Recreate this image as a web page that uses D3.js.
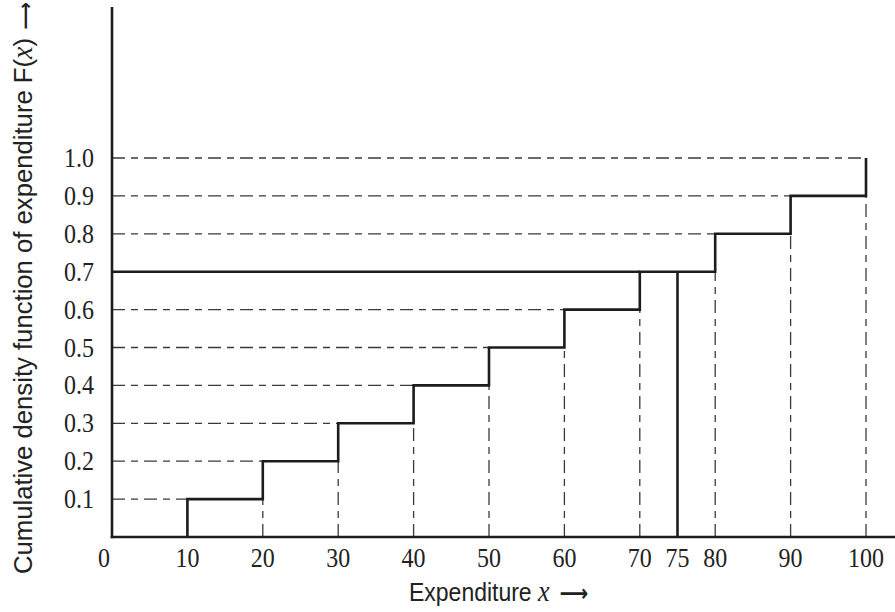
<!DOCTYPE html>
<html>
<head>
<meta charset="utf-8">
<script src="https://cdn.jsdelivr.net/npm/d3@7"></script>
<style>
  body { margin: 0; background: #fff; }
  .tick-label { font-family: "Liberation Serif", "Times New Roman", serif; fill: #222; }
  .title { font-family: "Liberation Sans", Arial, sans-serif; fill: #222; }
  .arrow { font-family: "DejaVu Sans", sans-serif; font-weight: bold; }
</style>
</head>
<body>
<svg id="chart" width="895" height="612"></svg>
<script>
// jump points of the step cdf and the level reached at each one
var jumpX = [10, 20, 30, 40, 50, 60, 70, 80, 90, 100];
var cdfLevel = [0.1, 0.2, 0.3, 0.4, 0.5, 0.6, 0.7, 0.8, 0.9, 1.0];
var markX = 75;
var markLevel = 0.7;
var xTickValues = [0, 10, 20, 30, 40, 50, 60, 70, 75, 80, 90, 100];
var yTickValues = [0.1, 0.2, 0.3, 0.4, 0.5, 0.6, 0.7, 0.8, 0.9, 1.0];

var svg = d3.select("#chart");
var x = d3.scaleLinear().domain([0, 100]).range([112, 866]);
var y = d3.scaleLinear().domain([0, 1]).range([537, 158]);
var dash = "13,6,7,6";
var ink = "#1c1c1c";

// dashed guides: horizontal from axis to each step, vertical from axis up to each step
var guides = svg.append("g")
    .attr("stroke", "#3a3a3a")
    .attr("stroke-width", 1.3)
    .attr("stroke-dasharray", dash)
    .attr("fill", "none");

guides.selectAll("line.h")
    .data(cdfLevel.map(function(d, i) { return { x: jumpX[i], f: d }; })
      .filter(function(d) { return d.f !== markLevel; }))
  .enter().append("line")
    .attr("class", "h")
    .attr("x1", x(0))
    .attr("y1", function(d) { return y(d.f); })
    .attr("x2", function(d) { return x(d.x); })
    .attr("y2", function(d) { return y(d.f); });

guides.selectAll("line.v")
    .data(jumpX.slice(1).map(function(d, i) { return { x: d, f: cdfLevel[i] }; }))
  .enter().append("line")
    .attr("class", "v")
    .attr("x1", function(d) { return x(d.x); })
    .attr("y1", y(0))
    .attr("x2", function(d) { return x(d.x); })
    .attr("y2", function(d) { return y(d.f); });

// the step function itself
var pts = [[jumpX[0], 0]];
for (var i = 0; i < jumpX.length; i++) {
  if (i > 0) pts.push([jumpX[i], cdfLevel[i - 1]]);
  pts.push([jumpX[i], cdfLevel[i]]);
}
var line = d3.line()
    .x(function(d) { return x(d[0]); })
    .y(function(d) { return y(d[1]); });

svg.append("path")
    .datum(pts)
    .attr("d", line)
    .attr("fill", "none")
    .attr("stroke", ink)
    .attr("stroke-width", 2.6)
    .attr("stroke-linejoin", "miter");

// marked level and point
svg.append("line")
    .attr("x1", x(0)).attr("y1", y(markLevel))
    .attr("x2", x(jumpX[cdfLevel.indexOf(markLevel)])).attr("y2", y(markLevel))
    .attr("stroke", ink).attr("stroke-width", 2.6);
svg.append("line")
    .attr("x1", x(markX)).attr("y1", y(0))
    .attr("x2", x(markX)).attr("y2", y(markLevel))
    .attr("stroke", ink).attr("stroke-width", 2.6);

// axes
svg.append("line")
    .attr("x1", x(0)).attr("y1", 7)
    .attr("x2", x(0)).attr("y2", y(0) + 1.3)
    .attr("stroke", ink).attr("stroke-width", 2.6);
svg.append("line")
    .attr("x1", x(0) - 1.3).attr("y1", y(0))
    .attr("x2", 895).attr("y2", y(0))
    .attr("stroke", ink).attr("stroke-width", 2.6);

// tick labels (scaled a little taller, like the source scan)
var stretch = 1.18;
svg.append("g").selectAll("text")
    .data(xTickValues)
  .enter().append("text")
    .attr("class", "tick-label")
    .attr("text-anchor", "middle")
    .attr("font-size", 24)
    .attr("transform", function(d) {
      var px = d === 0 ? x(0) - 8 : x(d);
      return "translate(" + px + ",567) scale(1," + stretch + ")";
    })
    .text(function(d) { return d; });

svg.append("g").selectAll("text")
    .data(yTickValues)
  .enter().append("text")
    .attr("class", "tick-label")
    .attr("text-anchor", "end")
    .attr("font-size", 24)
    .attr("transform", function(d) {
      return "translate(94," + (y(d) + 9) + ") scale(1," + stretch + ")";
    })
    .text(function(d) { return d.toFixed(1); });

// axis titles
var xt = svg.append("text")
    .attr("class", "title")
    .attr("font-size", 23)
    .attr("transform", "translate(409,601) scale(1,1.15)");
xt.append("tspan").text("Expenditure ");
xt.append("tspan").attr("font-family", "Liberation Serif, serif").attr("font-style", "italic")
    .attr("font-size", 26).text("x");
xt.append("tspan").attr("class", "arrow").attr("dx", 10).attr("font-size", 20).text("\u27F6");

var yt = svg.append("text")
    .attr("class", "title")
    .attr("font-size", 24)
    .attr("transform", "translate(32,574) rotate(-90) scale(1.07,1.1)");
yt.append("tspan").text("Cumulative density function of expenditure F(");
yt.append("tspan").attr("font-family", "Liberation Serif, serif").attr("font-style", "italic")
    .attr("font-size", 26).text("x");
yt.append("tspan").text(")");
yt.append("tspan").attr("class", "arrow").attr("dx", 8).attr("font-size", 18).text("\u27F6");
</script>
</body>
</html>
